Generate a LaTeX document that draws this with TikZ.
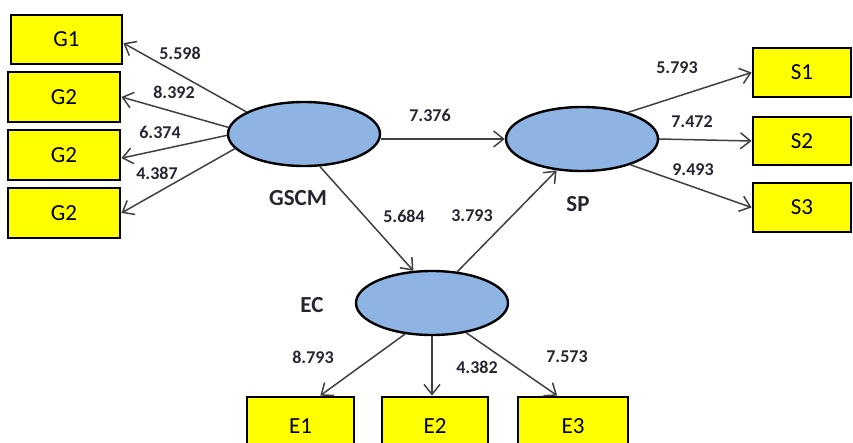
\documentclass[tikz,border=0pt]{standalone}
\usepackage{fontspec}
\setmainfont{Carlito}
\usetikzlibrary{shapes.geometric,arrows.meta,calc}
\definecolor{latfill}{HTML}{8EB4E3}
\definecolor{boxfill}{HTML}{FFFF00}
\definecolor{arrowc}{HTML}{404040}
\definecolor{txtc}{HTML}{262633}
\tikzset{
  latent/.style={ellipse,draw=black,line width=2.4pt,fill=latfill,minimum width=152pt,minimum height=64pt,inner sep=0pt},
  indbox/.style={rectangle,draw=black,line width=2.8pt,fill=boxfill,inner sep=0pt,font=\fontsize{23}{23}\selectfont,text=black},
  conn/.style={draw=arrowc,line width=1.5pt,-{Straight Barb[length=10pt,width=16pt,line width=1.5pt]}},
  val/.style={font=\bfseries\fontsize{18}{18}\selectfont,text=txtc,inner sep=0pt},
  latlab/.style={font=\bfseries\fontsize{23}{23}\selectfont,text=txtc,inner sep=0pt}
}
\begin{document}
\begin{tikzpicture}[x=1pt,y=-1pt]
\clip (0,0) rectangle (853,443);
\fill[white] (0,0) rectangle (853,443);
% indicator boxes
\node[indbox,minimum width=111pt,minimum height=49pt] (g1) at (66.5,39.5) {G1};
\node[indbox,minimum width=112pt,minimum height=50pt] (g2a) at (64,97) {G2};
\node[indbox,minimum width=112pt,minimum height=50pt] (g2b) at (64,155) {G2};
\node[indbox,minimum width=112pt,minimum height=50pt] (g2c) at (64,213) {G2};
\node[indbox,minimum width=98pt,minimum height=49pt] (s1) at (802,72.5) {S1};
\node[indbox,minimum width=98pt,minimum height=48pt] (s2) at (802,141) {S2};
\node[indbox,minimum width=98pt,minimum height=49pt] (s3) at (802,207.5) {S3};
\node[indbox,minimum width=107pt,minimum height=58pt] (e1) at (300.5,426) {E1};
\node[indbox,minimum width=106pt,minimum height=58pt] (e2) at (435,426) {E2};
\node[indbox,minimum width=110pt,minimum height=58pt] (e3) at (573,426) {E3};
% latent variables
\node[latent] (gscm) at (304,134) {};
\node[latent] (sp) at (582,139) {};
\node[latent] (ec) at (432,303) {};
% latent labels
\node[latlab] (lgscm) at (298,198) {GSCM};
\node[latlab] (lsp) at (578,204) {SP};
\node[latlab] (lec) at (312,305) {EC};
% connectors
\draw[conn] (gscm.159) -- ($(g1.south east)!0.43!(g1.north east)$);
\draw[conn] (gscm.175) -- (g2a.east);
\draw[conn] (gscm.181) -- ($(g2b.south east)!0.44!(g2b.north east)$);
\draw[conn] (gscm.192) -- (g2c.east);
\draw[conn] (gscm.east |- sp.west) -- (sp.west);
\draw[conn] (gscm.-64) -- (ec.120);
\draw[conn] (ec.51) -- (sp.231);
\draw[conn] (sp.30) -- (s1.west);
\draw[conn] (sp.east) -- (s2.west);
\draw[conn] (sp.-28) -- (s3.west);
\draw[conn] (ec.-131) -- ($(e1.north west)!0.68!(e1.north east)$);
\draw[conn] (ec.south) -- (ec.south |- e2.north);
\draw[conn] (ec.-41) -- ($(e3.north west)!0.36!(e3.north east)$);
% values
\node[val] (v1) at (180,53) {5.598};
\node[val] (v2) at (174,92) {8.392};
\node[val] (v3) at (160,132) {6.374};
\node[val] (v4) at (157,173) {4.387};
\node[val] (v5) at (430,115) {7.376};
\node[val] (v6) at (404,216) {5.684};
\node[val] (v7) at (472,216) {3.793};
\node[val] (v8) at (677,68) {5.793};
\node[val] (v9) at (692,122) {7.472};
\node[val] (v10) at (693,170) {9.493};
\node[val] (v11) at (313,357) {8.793};
\node[val] (v12) at (477,367) {4.382};
\node[val] (v13) at (567,357) {7.573};
\end{tikzpicture}
\end{document}
